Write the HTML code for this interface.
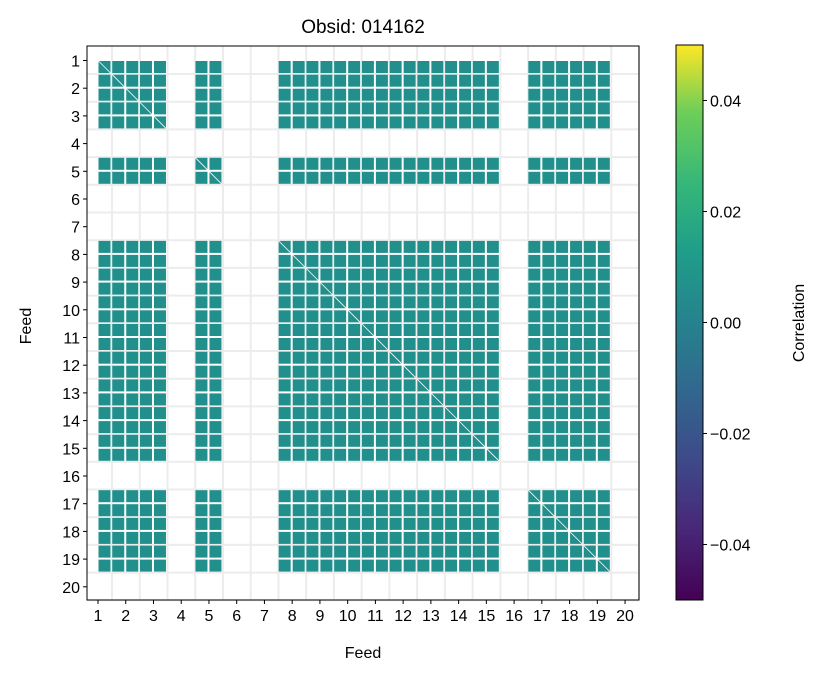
<!DOCTYPE html>
<html><head><meta charset="utf-8"><style>
body{margin:0;background:#fff;width:825px;height:678px;overflow:hidden;font-family:"Liberation Sans","DejaVu Sans",sans-serif}
</style></head><body>
<svg id="c" width="825" height="678" xmlns="http://www.w3.org/2000/svg">
<defs><linearGradient id="vir" x1="0" y1="1" x2="0" y2="0">
<stop offset="0" stop-color="#440154"/><stop offset="0.13" stop-color="#482878"/><stop offset="0.25" stop-color="#3e4989"/><stop offset="0.38" stop-color="#31688e"/><stop offset="0.5" stop-color="#26828e"/><stop offset="0.63" stop-color="#1f9e89"/><stop offset="0.75" stop-color="#35b779"/><stop offset="0.88" stop-color="#6ece58"/><stop offset="1" stop-color="#fde725"/></linearGradient></defs>
<g id="plot"></g>
</svg>
<script>
const feeds=[1,2,3,4,5,6,7,8,9,10,11,12,13,14,15,16,17,18,19,20];
const activeFeeds=[1,1,1,0,1,0,0,1,1,1,1,1,1,1,1,0,1,1,1,0];
const correlation=0.0;
const cbTicks=[0.04,0.02,0.00,-0.02,-0.04];
const cbLabels=["0.04","0.02","0.00","\u22120.02","\u22120.04"];
const NS="http://www.w3.org/2000/svg";
const svg=document.getElementById('c'),g=document.getElementById('plot');
const L=87,R=639,T=46,B=600;
const xs=f=>98+(f-1)*27.74, ys=f=>60.5+(f-1)*27.7;
const cbT=45,cbB=600,cbMin=-0.05,cbMax=0.05;
const cy=v=>cbB-(v-cbMin)/(cbMax-cbMin)*(cbB-cbT);
function viridis(v){return '#21908d';}
function el(t,a,p){const e=document.createElementNS(NS,t);for(const k in a)e.setAttribute(k,a[k]);(p||g).appendChild(e);return e;}
feeds.forEach(f=>{
 const gx=el('line',{x1:xs(f)+14,x2:xs(f)+14,y1:T,y2:B,stroke:'#ececec','stroke-width':2});
 
 const gy=el('line',{x1:L,x2:R,y1:ys(f)+13.5,y2:ys(f)+13.5,stroke:'#ececec','stroke-width':2});
 
});
const halves=(f)=>f===1?[0.5]:[-13.5,0.5];
feeds.forEach((fr,ri)=>{if(!activeFeeds[ri])return;
 feeds.forEach((fc,ci)=>{if(!activeFeeds[ci])return;
  halves(fr).forEach(dy=>halves(fc).forEach(dx=>{
   const r=el('rect',{x:xs(fc)+dx,y:ys(fr)+dy,width:12,height:12,fill:viridis(correlation)});
   
   
  }));
  if(fr===fc){const s=fr===1?0.5:-13.5;
   const d=el('line',{x1:xs(fc)+s,y1:ys(fr)+s,x2:xs(fc)+12.5,y2:ys(fr)+12.5,stroke:'#ffffff','stroke-width':0.8});
   }
 });
});
const fr=el('rect',{x:L,y:T,width:R-L,height:B-T,fill:'none',stroke:'#000','stroke-width':1});

feeds.forEach(f=>{
 el('line',{x1:xs(f),x2:xs(f),y1:B,y2:B+4,stroke:'#000'});
 const tx=el('text',{x:xs(f),y:B+21,'text-anchor':'middle','font-size':16});tx.textContent=f;
 
 el('line',{x1:L-4,x2:L,y1:ys(f),y2:ys(f),stroke:'#000'});
 const ty=el('text',{x:L-7,y:ys(f)+6,'text-anchor':'end','font-size':16});ty.textContent=f;
 
});
const tt=el('text',{x:363,y:33,'text-anchor':'middle','font-size':19});tt.textContent='Obsid: 014162';

const xl=el('text',{x:363,y:658,'text-anchor':'middle','font-size':16});xl.textContent='Feed';

const yl=el('text',{x:31,y:326,'text-anchor':'middle','font-size':16,transform:'rotate(-90 31 326)'});yl.textContent='Feed';

const cb=el('rect',{x:676,y:cbT,width:27,height:cbB-cbT,fill:'url(#vir)',stroke:'#000','stroke-width':1});

cbTicks.forEach((v,i)=>{
 el('line',{x1:703,x2:707,y1:cy(v),y2:cy(v),stroke:'#000'});
 const t=el('text',{x:710,y:cy(v)+6,'font-size':16});t.textContent=cbLabels[i];
 
});
const cl=el('text',{x:804,y:323,'text-anchor':'middle','font-size':16,transform:'rotate(-90 804 323)'});cl.textContent='Correlation';

</script>
</body></html>
